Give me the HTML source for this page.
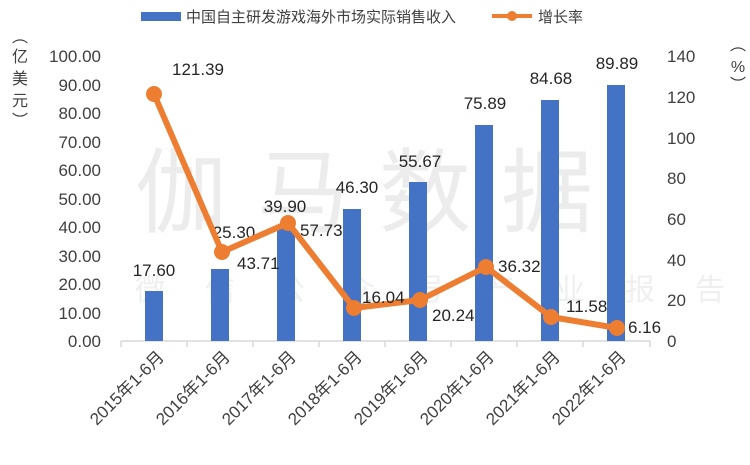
<!DOCTYPE html>
<html><head><meta charset="utf-8"><style>
body{margin:0;background:#fff;}
svg text{font-family:"Liberation Sans","Noto Sans CJK SC",sans-serif;}
</style></head><body>
<svg width="750" height="460" xmlns="http://www.w3.org/2000/svg">
<rect width="750" height="460" fill="#fff"/>
<text x="135" y="225" font-size="92" fill="#ececec" font-family="Noto Sans CJK SC,sans-serif" letter-spacing="30">伽马数据</text>
<text x="135" y="300" font-size="30" fill="#efefef" font-family="Noto Sans CJK SC,sans-serif" letter-spacing="40">微信公众号产业报告</text>
<rect x="141" y="12" width="40" height="9" fill="#4472c4"/>
<text x="186" y="22" font-size="15" fill="#404040">中国自主研发游戏海外市场实际销售收入</text>
<line x1="492" y1="16" x2="532" y2="16" stroke="#ed7d31" stroke-width="4"/>
<circle cx="512" cy="16" r="5" fill="#ed7d31"/>
<text x="538" y="22" font-size="15" fill="#404040">增长率</text>
<g font-size="16" fill="#404040" text-anchor="middle">
<text x="20" y="42">︵</text><text x="20" y="62">亿</text><text x="20" y="84">美</text><text x="20" y="106">元</text><text x="20" y="126">︶</text>
<text x="738" y="50">︵</text><text x="738" y="72">%</text><text x="738" y="90">︶</text>
</g>
<g font-size="17" fill="#404040" text-anchor="end">
<text x="101" y="347">0.00</text><text x="101" y="319">10.00</text><text x="101" y="290">20.00</text><text x="101" y="262">30.00</text><text x="101" y="233">40.00</text><text x="101" y="205">50.00</text><text x="101" y="176">60.00</text><text x="101" y="148">70.00</text><text x="101" y="119">80.00</text><text x="101" y="91">90.00</text><text x="101" y="62">100.00</text>
</g>
<g font-size="17" fill="#404040" text-anchor="start">
<text x="667" y="347">0</text><text x="667" y="306">20</text><text x="667" y="266">40</text><text x="667" y="225">60</text><text x="667" y="184">80</text><text x="667" y="144">100</text><text x="667" y="103">120</text><text x="667" y="62">140</text>
</g>
<line x1="121" y1="341" x2="650" y2="341" stroke="#d9d9d9" stroke-width="1.5"/>
<g stroke="#d9d9d9" stroke-width="1.5">
<line x1="121" y1="341" x2="121" y2="347"/><line x1="187" y1="341" x2="187" y2="347"/><line x1="253" y1="341" x2="253" y2="347"/><line x1="319" y1="341" x2="319" y2="347"/><line x1="385" y1="341" x2="385" y2="347"/><line x1="451" y1="341" x2="451" y2="347"/><line x1="517" y1="341" x2="517" y2="347"/><line x1="583" y1="341" x2="583" y2="347"/><line x1="650" y1="341" x2="650" y2="347"/>
</g>
<g fill="#4472c4">
<rect x="145" y="291" width="18" height="50"/>
<rect x="211" y="269" width="18" height="72"/>
<rect x="277" y="227" width="18" height="114"/>
<rect x="343" y="209" width="18" height="132"/>
<rect x="409" y="182" width="18" height="159"/>
<rect x="475" y="125" width="18" height="216"/>
<rect x="541" y="100" width="18" height="241"/>
<rect x="607" y="85" width="18" height="256"/>
</g>
<g font-size="17" fill="#262626" text-anchor="middle">
<text x="154" y="276">17.60</text><text x="234" y="238">25.30</text><text x="285" y="212">39.90</text><text x="357" y="193">46.30</text>
<text x="420" y="167">55.67</text><text x="485" y="109">75.89</text><text x="551" y="84">84.68</text><text x="617" y="69">89.89</text>
</g>
<line x1="222" y1="252" x2="240" y2="244" stroke="#a6a6a6" stroke-width="1"/>
<line x1="354" y1="308" x2="370" y2="300" stroke="#a6a6a6" stroke-width="1"/>
<polyline points="154,94 222,252 288,223 354,308 420,300 486,267 551,317 617,328" fill="none" stroke="#ed7d31" stroke-width="6" stroke-linejoin="round"/>
<g fill="#ed7d31">
<circle cx="154" cy="94" r="8"/><circle cx="222" cy="252" r="8"/><circle cx="288" cy="223" r="8"/><circle cx="354" cy="308" r="8"/><circle cx="420" cy="300" r="8"/><circle cx="486" cy="267" r="8"/><circle cx="551" cy="317" r="8"/><circle cx="617" cy="328" r="8"/>
</g>
<g font-size="17" fill="#262626">
<text x="172" y="75">121.39</text><text x="237" y="269">43.71</text><text x="300" y="236">57.73</text><text x="362" y="303">16.04</text>
<text x="432" y="321">20.24</text><text x="498" y="272">36.32</text><text x="566" y="312">11.58</text><text x="628" y="333">6.16</text>
</g>
<g font-size="17" fill="#404040" text-anchor="end">
<text transform="translate(165,358) rotate(-45)">2015年1-6月</text>
<text transform="translate(231,358) rotate(-45)">2016年1-6月</text>
<text transform="translate(297,358) rotate(-45)">2017年1-6月</text>
<text transform="translate(363,358) rotate(-45)">2018年1-6月</text>
<text transform="translate(429,358) rotate(-45)">2019年1-6月</text>
<text transform="translate(495,358) rotate(-45)">2020年1-6月</text>
<text transform="translate(561,358) rotate(-45)">2021年1-6月</text>
<text transform="translate(627,358) rotate(-45)">2022年1-6月</text>
</g>
</svg>
</body></html>
